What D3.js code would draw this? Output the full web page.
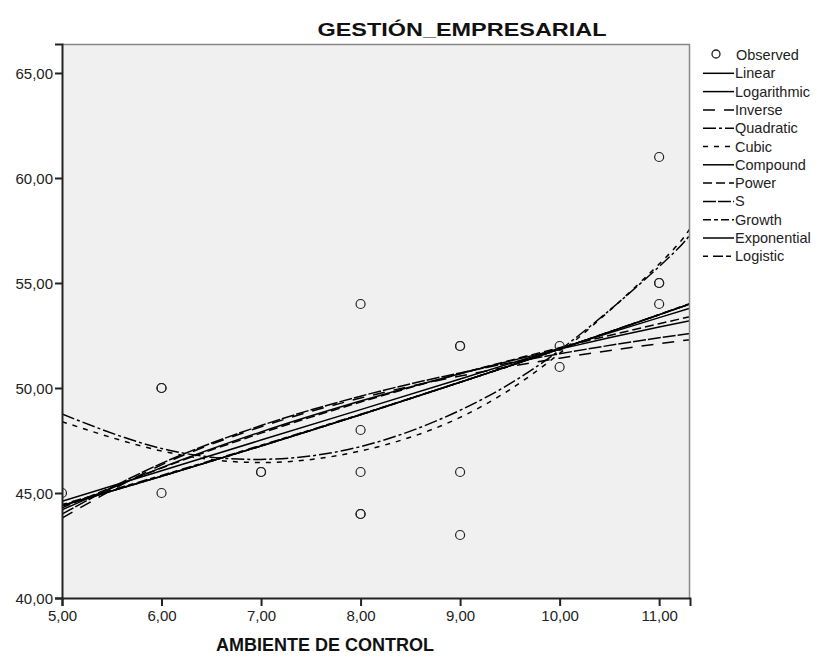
<!DOCTYPE html>
<html><head><meta charset="utf-8">
<script src="https://cdn.jsdelivr.net/npm/d3@7"></script>
<style>body{margin:0;background:#fff}svg{display:block}text{font-family:"Liberation Sans",Arial,sans-serif}</style>
</head><body>
<svg id="c" width="817" height="657"></svg>
<script>
// Observed points
const obsX = [5, 6, 6, 6, 7, 7, 8, 8, 8, 8, 8, 9, 9, 9, 9, 10, 10, 11, 11, 11, 11];
const obsY = [45, 50, 50, 45, 46, 46, 54, 48, 46, 44, 44, 52, 52, 46, 43, 52, 51, 61, 55, 55, 54];

// Fitted curves
const fitX = [5, 6, 7, 8, 9, 10, 11, 11.31];
const linearY      = [44.60, 46.06, 47.52, 48.97, 50.43, 51.89, 53.35, 53.80];
const logarithmicY = [44.20, 46.21, 47.91, 49.38, 50.68, 51.85, 52.90, 53.20];
const inverseY     = [43.80, 46.34, 48.15, 49.52, 50.57, 51.42, 52.11, 52.30];
const quadraticY   = [48.76, 47.12, 46.60, 47.21, 48.94, 51.80, 55.78, 57.30];
const cubicY       = [48.40, 47.00, 46.45, 47.00, 48.60, 51.65, 55.90, 57.60];
const compoundY    = [44.40, 45.80, 47.24, 48.73, 50.27, 51.85, 53.49, 54.00];
const powerY       = [44.30, 46.19, 47.85, 49.33, 50.68, 51.92, 53.06, 53.40];
const sY           = [44.00, 46.41, 48.21, 49.61, 50.72, 51.63, 52.39, 52.60];
const growthY      = [44.40, 45.80, 47.24, 48.73, 50.27, 51.85, 53.49, 54.00];
const exponentialY = [44.40, 45.80, 47.24, 48.73, 50.27, 51.85, 53.49, 54.00];
const logisticY    = [44.45, 45.84, 47.27, 48.75, 50.28, 51.86, 53.50, 54.02];

const xTicks = [5, 6, 7, 8, 9, 10, 11];
const yTicks = [40, 45, 50, 55, 60, 65];

const seriesNames = ["Linear","Logarithmic","Inverse","Quadratic","Cubic","Compound","Power","S","Growth","Exponential","Logistic"];
const seriesVals = [linearY, logarithmicY, inverseY, quadraticY, cubicY, compoundY, powerY, sY, growthY, exponentialY, logisticY];
const seriesDash = [null, null, "12,9", "13,3,3,3", "5,6", null, "9,4", "13,2", "8,3,4,3", null, "5,5,10,3"];
const seriesCurve = [d3.curveLinear, d3.curveMonotoneX, d3.curveMonotoneX, d3.curveNatural, d3.curveNatural, d3.curveMonotoneX, d3.curveMonotoneX, d3.curveMonotoneX, d3.curveMonotoneX, d3.curveMonotoneX, d3.curveMonotoneX];

const svg = d3.select("#c");
const L = 62, R = 690, T = 44, B = 598;
const x = d3.scaleLinear().domain([5, 11.31]).range([L, R]);
const y = d3.scaleLinear().domain([40, 66.38]).range([B, T]);

svg.append("defs").append("clipPath").attr("id","clip")
  .append("rect").attr("x",L).attr("y",T).attr("width",R-L).attr("height",B-T);

svg.append("rect").attr("x",L).attr("y",T).attr("width",R-L).attr("height",B-T)
  .attr("fill","#f0f0f0");

const g = svg.append("g").attr("clip-path","url(#clip)");

seriesVals.forEach((vals,i)=>{
  const line = d3.line().x((d,j)=>x(fitX[j])).y(d=>y(d)).curve(seriesCurve[i]);
  g.append("path").attr("d", line(vals)).attr("fill","none")
    .attr("stroke","#000").attr("stroke-width",1.5)
    .attr("stroke-dasharray", seriesDash[i]);
});

g.selectAll("circle.o").data(obsX).enter().append("circle")
  .attr("cx",(d)=>x(d)).attr("cy",(d,i)=>y(obsY[i])).attr("r",4.5)
  .attr("fill","none").attr("stroke","#222").attr("stroke-width",1.2);

// frame
svg.append("line").attr("x1",L).attr("x2",R).attr("y1",T+0.5).attr("y2",T+0.5).attr("stroke","#888").attr("stroke-width",1.5);
svg.append("line").attr("x1",R-0.5).attr("x2",R-0.5).attr("y1",T).attr("y2",B).attr("stroke","#888").attr("stroke-width",1.5);

// axes
const fmt = d=>d3.format(".2f")(d).replace(".",",");
const yAxis = d3.axisLeft(y).tickValues(yTicks).tickSize(7).tickFormat(fmt);
const ya = svg.append("g").attr("transform",`translate(${L},0)`).call(yAxis);
const xAxis = d3.axisBottom(x).tickValues(xTicks).tickSize(8).tickFormat(fmt);
const xa = svg.append("g").attr("transform",`translate(0,${B})`).call(xAxis);
[ya,xa].forEach(a=>{
  a.select(".domain").attr("stroke","#222").attr("stroke-width",2);
  a.selectAll(".tick line").attr("stroke","#222").attr("stroke-width",2);
  a.selectAll(".tick text").attr("fill","#222").style("font-size","15px").style("font-family","'Liberation Sans',Arial,sans-serif");
});
ya.selectAll(".tick text").attr("x",-9).attr("dy","0.35em");
xa.selectAll(".tick text").attr("y",12);

// title & axis title
svg.append("text").attr("x",462).attr("y",36).attr("text-anchor","middle")
  .attr("textLength",289).attr("lengthAdjust","spacingAndGlyphs")
  .style("font-size","19px").style("font-weight","bold").attr("fill","#111").text("GESTIÓN_EMPRESARIAL");
svg.append("text").attr("x",325).attr("y",651).attr("text-anchor","middle")
  .style("font-size","18px").style("font-weight","bold").attr("fill","#111").text("AMBIENTE DE CONTROL");

// legend
const lg = svg.append("g");
const ly0 = 55, ldy = 18.3;
lg.append("circle").attr("cx",716).attr("cy",ly0-1).attr("r",4).attr("fill","none").attr("stroke","#222").attr("stroke-width",1.3);
lg.append("text").attr("x",736).attr("y",ly0).attr("dy","0.35em").style("font-size","14.5px").attr("fill","#222").text("Observed");
seriesNames.forEach((n,i)=>{
  const yy = ly0 + ldy*(i+1);
  lg.append("line").attr("x1",703).attr("x2",734).attr("y1",yy).attr("y2",yy)
    .attr("stroke","#000").attr("stroke-width",1.5).attr("stroke-dasharray",seriesDash[i]);
  lg.append("text").attr("x",735).attr("y",yy).attr("dy","0.35em").style("font-size","14.5px").attr("fill","#222").text(n);
});
</script>
</body></html>
